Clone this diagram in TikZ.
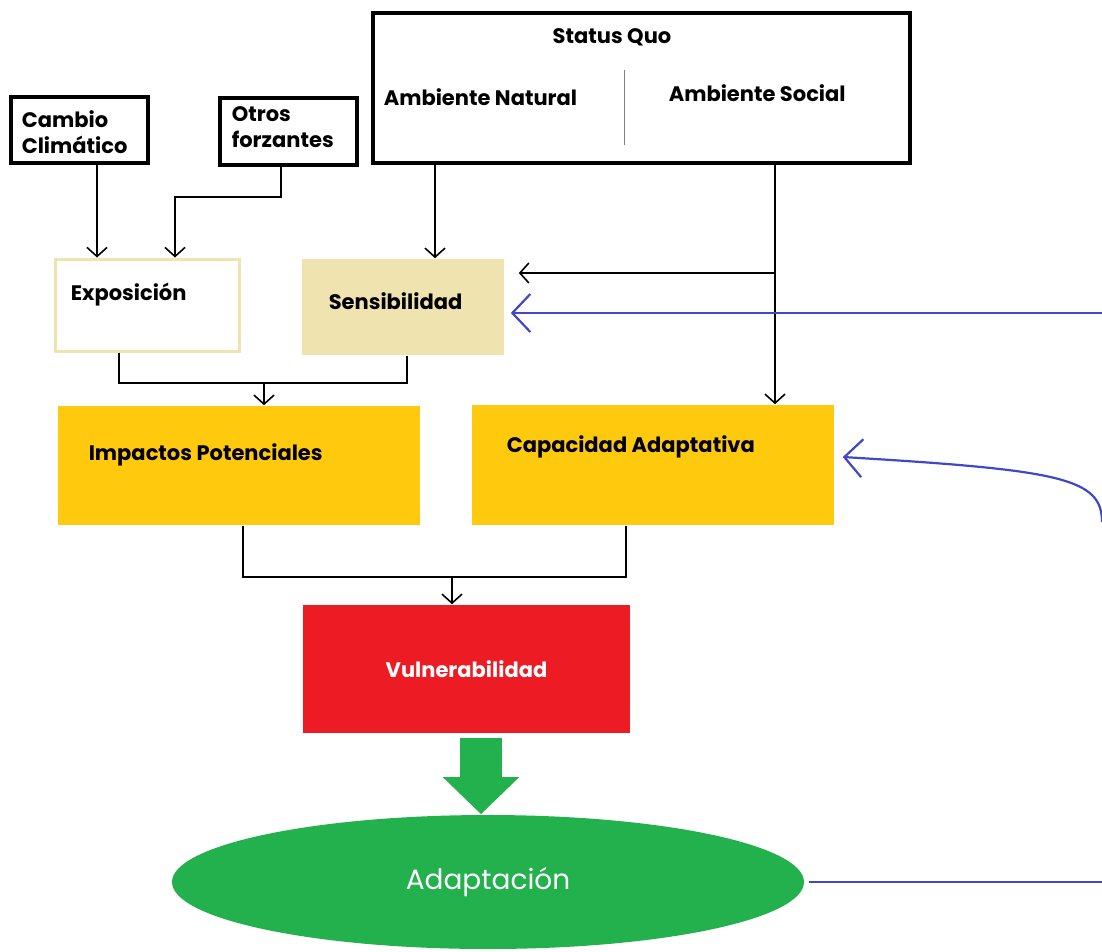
\documentclass[tikz,border=0pt]{standalone}
\usepackage{fontspec}
\setmainfont{Poppins}
\usetikzlibrary{arrows.meta,shapes.geometric}
\definecolor{senscol}{HTML}{EFE4B0}
\definecolor{impcol}{HTML}{FFC90E}
\definecolor{vulcol}{HTML}{ED1C24}
\definecolor{adapcol}{HTML}{22B14C}
\definecolor{linkblue}{HTML}{3F48CC}
\tikzset{
  frame/.style={draw, line width=3.5pt, inner sep=0pt},
  panel/.style={draw=none, inner sep=0pt},
  lbl/.style={font=\bfseries\fontsize{21}{26}\selectfont, inner sep=0pt, align=left},
  feed/.style={draw=linkblue, line width=2.2pt, -{Straight Barb[length=18pt,width=38pt]}},
}
\begin{document}
\begin{tikzpicture}[x=1pt,y=-1pt,line width=1.6pt,>={Straight Barb[length=9pt,width=20pt]}]
\useasboundingbox (0,0) rectangle (1102,951);
% boxes
\node[frame, minimum width=137pt, minimum height=66pt] (cambio) at (79.5,130) {};
\node[frame, minimum width=137pt, minimum height=67pt] (otros) at (288.5,131.5) {};
\node[frame, minimum width=537pt, minimum height=150pt] (status) at (641.5,88) {};
\node[panel, draw=senscol, line width=3pt, minimum width=184pt, minimum height=92pt] (expo) at (147,305) {};
\node[panel, fill=senscol, minimum width=202pt, minimum height=96pt] (sens) at (403,307) {};
\node[panel, fill=impcol, minimum width=362pt, minimum height=119pt] (impact) at (239,465.5) {};
\node[panel, fill=impcol, minimum width=362pt, minimum height=120pt] (capa) at (653,465) {};
\node[panel, fill=vulcol, minimum width=327pt, minimum height=128pt, text=white,
  font=\bfseries\fontsize{21}{25}\selectfont] (vuln) at (466.5,669) {Vulnerabilidad};
\node[ellipse, fill=adapcol, inner sep=0pt, minimum width=632pt, minimum height=134pt,
  text=white, font=\fontsize{28}{32}\selectfont] (adapt) at (488,882) {Adaptación};
% texts
\node[lbl, anchor=north west] (tcambio) at (21,110) {Cambio\\Climático};
\node[lbl, anchor=north west] (totros) at (231,106) {Otros\\forzantes};
\node[lbl] (tstatus) at (612,37) {Status Quo};
\node[lbl, anchor=west] (tnat) at (383,97) {Ambiente Natural};
\node[lbl, anchor=west] (tsoc) at (668,93) {Ambiente Social};
\node[lbl, anchor=west] (texpo) at (70,295) {Exposición};
\node[lbl, anchor=west] (tsens) at (328,301) {Sensibilidad};
\node[lbl, anchor=west] (timp) at (88,455) {Impactos Potenciales};
\node[lbl, anchor=west] (tcapa) at (506,447) {Capacidad Adaptativa};
\draw[gray, line width=1pt] (624,70) -- (624,145);
% black links
\draw[->] (97,0 |- cambio.south) -- (97,0 |- expo.north);
\draw[->] (281,0 |- otros.south) -- (281,197) -| (175,0 |- expo.north);
\draw[->] (435,0 |- status.south) -- (435,0 |- sens.north);
\draw[->] (775,0 |- status.south) -- (775,0 |- capa.north);
\coordinate (branch) at (775,273);
\draw[->, shorten >=14pt] (branch) -- (branch -| sens.east);
\draw (119,0 |- expo.south) -- (119,383) -| (407,0 |- sens.south);
\coordinate (join1) at (264,383);
\draw[->] (join1) -- (join1 |- impact.north);
\draw (243,0 |- impact.south) -- (243,577) -| (626,0 |- capa.south);
\coordinate (join2) at (452,577);
\draw[->] (join2) -- (join2 |- vuln.north);
% green arrow
\coordinate (gtop) at (481,738);
\draw[adapcol, line width=42pt, -{Triangle[length=37pt,width=74pt]}] (gtop) -- (gtop |- adapt.north);
% blue feedback
\coordinate (edgeA) at (1102,313);
\coordinate (edgeB) at (1102,522);
\coordinate (edgeC) at (1102,883);
\draw[feed, shorten >=6pt] (edgeA) -- (edgeA -| sens.east);
\draw[feed] (edgeB) .. controls (1102,478) and (1060,470) .. ([shift={(8,-8)}]capa.east);
\draw[linkblue, line width=2.2pt, shorten <=4pt] (adapt.east) -- (adapt.east -| edgeC);
\end{tikzpicture}
\end{document}
